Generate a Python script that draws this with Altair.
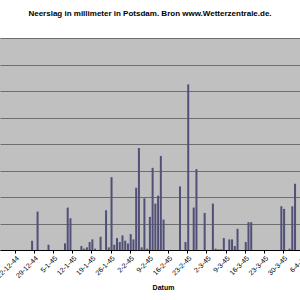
import altair as alt
import pandas as pd

dates = [
    "1944-12-28", "1944-12-30", "1945-01-03", "1945-01-09", "1945-01-10", "1945-01-11",
    "1945-01-15", "1945-01-16", "1945-01-17", "1945-01-18", "1945-01-19", "1945-01-20",
    "1945-01-22", "1945-01-24", "1945-01-25", "1945-01-26", "1945-01-27", "1945-01-28",
    "1945-01-29", "1945-01-30", "1945-01-31", "1945-02-01", "1945-02-02", "1945-02-03",
    "1945-02-04", "1945-02-05", "1945-02-06", "1945-02-07", "1945-02-08", "1945-02-09",
    "1945-02-10", "1945-02-11", "1945-02-12", "1945-02-13", "1945-02-14", "1945-02-20",
    "1945-02-22", "1945-02-23", "1945-02-25", "1945-02-26", "1945-03-01", "1945-03-04",
    "1945-03-05", "1945-03-06", "1945-03-07", "1945-03-08", "1945-03-10", "1945-03-11",
    "1945-03-12", "1945-03-13", "1945-03-16", "1945-03-17", "1945-03-18", "1945-03-29",
    "1945-03-30", "1945-04-01", "1945-04-02", "1945-04-03",
]
neerslag = [
    0.7, 2.9, 0.4, 0.5, 3.2, 2.4,
    0.3, 0.1, 0.2, 0.6, 0.8, 0.1,
    1.0, 3.0, 0.2, 5.5, 0.4, 0.9,
    0.6, 1.1, 0.7, 0.5, 1.2, 0.8,
    4.7, 7.7, 0.2, 3.9, 0.1, 2.5,
    6.2, 3.5, 4.1, 7.1, 2.3, 4.8,
    0.6, 12.5, 3.2, 6.1, 2.8, 3.5,
    0.1, 0.05, 0.05, 0.9, 0.8, 0.8,
    0.3, 1.6, 0.6, 2.1, 2.1, 3.3,
    3.1, 0.1, 3.3, 5.0,
]
tick_dates = [
    (1944, 12, 22), (1944, 12, 29), (1945, 1, 5), (1945, 1, 12), (1945, 1, 19),
    (1945, 1, 26), (1945, 2, 2), (1945, 2, 9), (1945, 2, 16), (1945, 2, 23),
    (1945, 3, 2), (1945, 3, 9), (1945, 3, 16), (1945, 3, 23), (1945, 3, 30),
    (1945, 4, 6),
]

df = pd.DataFrame({"Datum": dates, "Neerslag": neerslag})

tick_vals = [alt.DateTime(year=y, month=m, date=d, utc=True) for (y, m, d) in tick_dates]
x_domain = [
    alt.DateTime(year=1944, month=12, date=18, hours=11, minutes=17, utc=True),
    alt.DateTime(year=1945, month=4, date=7, hours=0, utc=True),
]

FONT = "Liberation Sans"

chart = (
    alt.Chart(df)
    .mark_bar(size=2, xOffset=1, color="#505078")
    .encode(
        x=alt.X(
            "Datum:T",
            scale=alt.Scale(type="utc", domain=x_domain),
            axis=alt.Axis(
                values=tick_vals,
                format="%-d-%-m-%y",
                formatType="time",
                labelAngle=-45,
                labelFontSize=7,
                labelFont=FONT,
                labelColor="#000000",
                tickSize=3,
                tickColor="#000000",
                domainColor="#000000",
                grid=False,
                title="Datum",
                titleFont=FONT,
                titleFontSize=7,
                titleFontWeight="bold",
                titleX=163,
                titleY=39,
                titleBaseline="alphabetic",
                titleAlign="center",
                labelOverlap=False,
                labelPadding=1,
            ),
        ),
        y=alt.Y(
            "Neerslag:Q",
            scale=alt.Scale(domain=[0, 16], nice=False),
            axis=alt.Axis(
                values=[0, 2, 4, 6, 8, 10, 12, 14, 16],
                labels=False,
                ticks=False,
                domain=False,
                grid=True,
                gridColor="#6e6e6e",
                gridWidth=1,
                title=None,
            ),
        ),
    )
    .properties(
        width=310,
        height=212,
        background="#FFFFFF",
        autosize=alt.AutoSizeParams(type="none"),
        padding={"top": 38, "left": 0, "right": -10, "bottom": 50},
        title=alt.TitleParams(
            "Neerslag in millimeter in Potsdam. Bron www.Wetterzentrale.de.",
            font=FONT,
            fontSize=8,
            fontWeight="bold",
            color="#000000",
            offset=20,
            anchor="middle",
            dx=-5,
        ),
    )
    .configure_view(fill="#C0C0C0", stroke=None)
)

chart.save("out.html", embed_options={"renderer": "svg", "actions": False})
